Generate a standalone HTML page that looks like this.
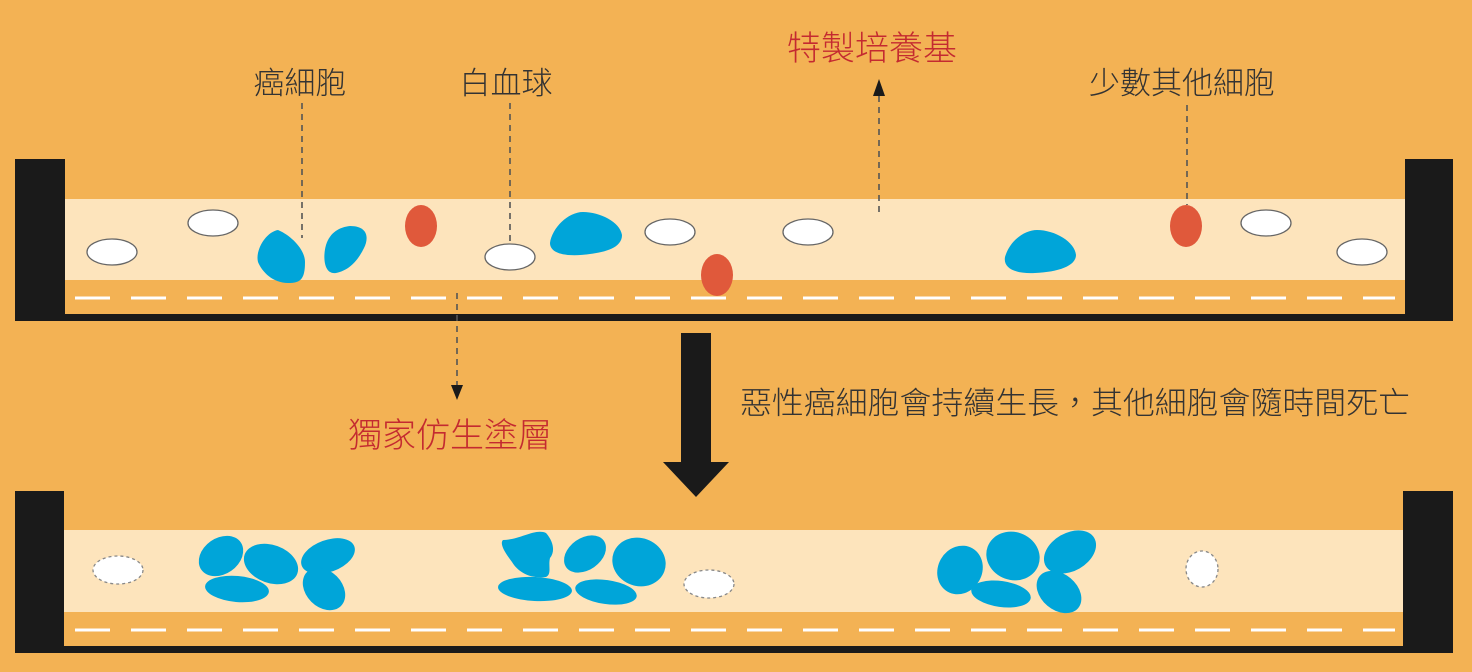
<!DOCTYPE html>
<html><head><meta charset="utf-8"><style>
html,body{margin:0;padding:0;background:#F3B254;}
svg{display:block}
text{font-family:"Noto Sans CJK TC","Liberation Sans",sans-serif;font-weight:300;}
</style></head><body>
<svg width="1472" height="672" viewBox="0 0 1472 672" xmlns="http://www.w3.org/2000/svg">
<rect width="1472" height="672" fill="#F3B254"/>
<!-- top dish -->
<rect x="65" y="199" width="1340" height="81" fill="#FDE4BC"/>
<line x1="75" y1="298" x2="1395" y2="298" stroke="#fff" stroke-width="3" stroke-dasharray="35 21"/>
<rect x="15" y="159" width="50" height="162" fill="#1a1a1a"/>
<rect x="1405" y="159" width="48" height="162" fill="#1a1a1a"/>
<rect x="40" y="314" width="1390" height="7" fill="#1a1a1a"/>
<!-- bottom dish -->
<rect x="64" y="530" width="1340" height="82" fill="#FDE4BC"/>
<line x1="75" y1="630" x2="1395" y2="630" stroke="#fff" stroke-width="3" stroke-dasharray="35 21"/>
<rect x="15" y="491" width="49" height="162" fill="#1a1a1a"/>
<rect x="1403" y="491" width="50" height="162" fill="#1a1a1a"/>
<rect x="40" y="646" width="1390" height="7" fill="#1a1a1a"/>

<!-- top cells -->
<g fill="#fff" stroke="#666" stroke-width="1.3">
<ellipse cx="112" cy="252" rx="25" ry="13"/>
<ellipse cx="213" cy="223" rx="25" ry="13"/>
<ellipse cx="510" cy="257" rx="25" ry="13"/>
<ellipse cx="670" cy="232" rx="25" ry="13"/>
<ellipse cx="808" cy="232" rx="25" ry="13"/>
<ellipse cx="1266" cy="223" rx="25" ry="13"/>
<ellipse cx="1362" cy="252" rx="25" ry="13"/>
</g>
<g fill="#E0593B">
<ellipse cx="421" cy="226" rx="16" ry="21"/>
<ellipse cx="717" cy="275" rx="16" ry="21"/>
<ellipse cx="1186" cy="226" rx="16" ry="21"/>
</g>
<g fill="#00A5D9">
<path d="M278 230 C292 236 305 250 305 262 C305 280 300 283 288 283 C273 283 262 272 258 262 C255 250 266 232 278 230 Z"/>
<path d="M350 226 C368 226 369 238 364 248 C358 260 350 270 336 273 C323 275 323 255 326 245 C330 232 340 227 350 226 Z"/>
<path d="M583 212 C600 212 620 222 622 235 C622 248 605 252 590 254 C570 257 550 255 550 243 C552 228 568 212 583 212 Z"/>
<path d="M1037 230 C1055 230 1075 242 1076 255 C1076 266 1058 272 1035 273 C1015 274 1003 268 1005 257 C1010 240 1025 230 1037 230 Z"/>
</g>

<!-- bottom cells -->
<g fill="#fff" stroke="#888" stroke-width="1.3" stroke-dasharray="3 3">
<ellipse cx="118" cy="570" rx="25" ry="14"/>
<ellipse cx="709" cy="584" rx="25" ry="14"/>
<ellipse cx="1202" cy="569" rx="16" ry="18"/>
</g>
<g fill="#00A5D9">
<ellipse cx="221" cy="556" rx="24" ry="18" transform="rotate(-35 221 556)"/>
<ellipse cx="271" cy="564" rx="28" ry="19" transform="rotate(20 271 564)"/>
<ellipse cx="328" cy="556" rx="28" ry="16" transform="rotate(-20 328 556)"/>
<ellipse cx="237" cy="589" rx="32" ry="13" transform="rotate(5 237 589)"/>
<ellipse cx="324" cy="589" rx="24" ry="18" transform="rotate(45 324 589)"/>
<path d="M503 540 C520 540 535 528 546 533 C554 542 555 552 550 558 C548 566 552 574 546 577 C530 579 518 572 512 562 C506 554 499 544 503 540 Z"/>
<ellipse cx="585" cy="554" rx="23" ry="16" transform="rotate(-35 585 554)"/>
<ellipse cx="639" cy="562" rx="27" ry="24" transform="rotate(20 639 562)"/>
<ellipse cx="535" cy="589" rx="37" ry="12" transform="rotate(3 535 589)"/>
<ellipse cx="606" cy="592" rx="31" ry="12" transform="rotate(8 606 592)"/>
<ellipse cx="960" cy="570" rx="22" ry="25" transform="rotate(30 960 570)"/>
<ellipse cx="1013" cy="556" rx="27" ry="24" transform="rotate(20 1013 556)"/>
<ellipse cx="1070" cy="552" rx="28" ry="19" transform="rotate(-30 1070 552)"/>
<ellipse cx="1001" cy="594" rx="30" ry="13" transform="rotate(8 1001 594)"/>
<ellipse cx="1059" cy="592" rx="25" ry="18" transform="rotate(40 1059 592)"/>
</g>

<!-- leaders -->
<g stroke="#555" stroke-width="1.6" stroke-dasharray="6 5" fill="none">
<line x1="302" y1="103" x2="302" y2="238"/>
<line x1="510" y1="103" x2="510" y2="243"/>
<line x1="879" y1="96" x2="879" y2="212"/>
<line x1="1187" y1="105" x2="1187" y2="205"/>
<line x1="457" y1="293" x2="457" y2="386"/>
</g>
<polygon points="879,79 873,96 885,96" fill="#1a1a1a"/>
<polygon points="457,400 451,385 463,385" fill="#1a1a1a"/>

<!-- big arrow -->
<rect x="681" y="333" width="30" height="130" fill="#1a1a1a"/>
<polygon points="663,462 729,462 696,497" fill="#1a1a1a"/>

<!-- labels -->
<g fill="#333" font-size="31" text-anchor="middle">
<text x="300" y="94">癌細胞</text>
<text x="506" y="94">白血球</text>
<text x="1182" y="94">少數其他細胞</text>
</g>
<g fill="#C42A30" font-size="34" text-anchor="middle">
<text x="872" y="60">特製培養基</text>
<text x="450" y="447">獨家仿生塗層</text>
</g>
<text x="740" y="414" fill="#333" font-size="31" textLength="670" lengthAdjust="spacingAndGlyphs">惡性癌細胞會持續生長，其他細胞會隨時間死亡</text>
</svg>
</body></html>
